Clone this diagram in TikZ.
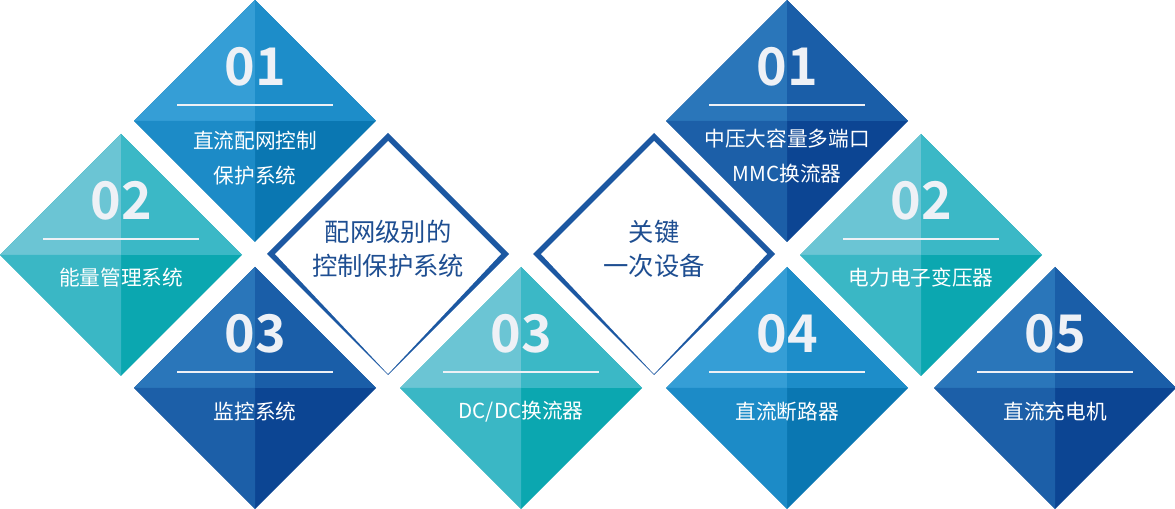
\documentclass[tikz,border=0pt]{standalone}
\usepackage{fontspec}
\setmainfont{Noto Sans CJK SC}[BoldFont={Noto Sans CJK SC Bold}]

% quadrant colours: A top left, B top right, C bottom left, D bottom right
\definecolor{mblueA}{HTML}{359ED6}
\definecolor{mblueB}{HTML}{1D8DC9}
\definecolor{mblueC}{HTML}{1C8BC7}
\definecolor{mblueD}{HTML}{0A77B2}
\definecolor{aquaA}{HTML}{6BC5D4}
\definecolor{aquaB}{HTML}{3BB8C6}
\definecolor{aquaC}{HTML}{3AB7C5}
\definecolor{aquaD}{HTML}{0BA7B0}
\definecolor{dblueA}{HTML}{2A76BA}
\definecolor{dblueB}{HTML}{1A5EA8}
\definecolor{dblueC}{HTML}{1C5FA8}
\definecolor{dblueD}{HTML}{0C4593}
\definecolor{numwhite}{HTML}{EEF1F6}
\definecolor{rimblue}{HTML}{1C58A2}
\definecolor{hubtextblue}{HTML}{1E4E91}

% four-quadrant diamond: #1 = x, #2 = y, #3 = palette
\newcommand{\quaddiamond}[3]{%
  \fill[#3D] (#1-121,#2) -- (#1,#2-121) -- (#1+121,#2) -- (#1,#2+121) -- cycle;
  \fill[#3A] (#1,#2) -- (#1-121,#2) -- (#1,#2-121) -- cycle;
  \fill[#3B] (#1,#2) -- (#1,#2-121) -- (#1+121,#2) -- cycle;
  \fill[#3C] (#1,#2) -- (#1-121,#2) -- (#1,#2+121) -- cycle;
  \draw[numline] (#1-78,#2-16) -- (#1+78,#2-16);
}

% outlined hub diamond: #1 = x, #2 = y
\newcommand{\hubdiamond}[2]{%
  \fill[rimblue] (#1,#2-121) -- (#1-121,#2) -- (#1,#2+121) -- (#1+121,#2) -- cycle;
  \fill[white] (#1,#2-113) -- (#1-113,#2) -- (#1,#2+120) -- (#1+113,#2) -- cycle;
}

\begin{document}
\begin{tikzpicture}[x=0.75pt,y=0.75pt,yscale=-1,xscale=1,
    numline/.style={draw=numwhite, line width=1.9pt},
    numtext/.style={text=numwhite, font=\bfseries\fontsize{39}{39}\selectfont, inner sep=0pt},
    labeltext/.style={text=white, font=\fontsize{15.5}{26}\selectfont, align=center, inner sep=0pt},
    hubtext/.style={text=hubtextblue, font=\fontsize{19}{26}\selectfont, align=center, inner sep=0pt}]
    \useasboundingbox (0,0) rectangle (1175,509);

    %Shape: Diamond [left 01]
    \quaddiamond{255}{121}{mblue}
    %Shape: Diamond [left 02]
    \quaddiamond{121}{255}{aqua}
    %Shape: Diamond [left 03]
    \quaddiamond{255}{388}{dblue}
    %Shape: Diamond [hub left]
    \hubdiamond{388}{254}
    %Shape: Diamond [middle 03]
    \quaddiamond{521}{388}{aqua}
    %Shape: Diamond [hub right]
    \hubdiamond{654}{254}
    %Shape: Diamond [right 01]
    \quaddiamond{787}{121}{dblue}
    %Shape: Diamond [right 02]
    \quaddiamond{921}{255}{aqua}
    %Shape: Diamond [right 04]
    \quaddiamond{787}{388}{mblue}
    %Shape: Diamond [right 05]
    \quaddiamond{1055}{388}{dblue}

    % Text Node
    \draw (255,67) node [numtext] (numctl) {01};
    % Text Node
    \draw (255,158) node [labeltext] (labctl) {直流配网控制\\保护系统};
    % Text Node
    \draw (121,201) node [numtext] (numems) {02};
    % Text Node
    \draw (121,278) node [labeltext] (labems) {能量管理系统};
    % Text Node
    \draw (255,334) node [numtext] (nummon) {03};
    % Text Node
    \draw (255,412) node [labeltext] (labmon) {监控系统};
    % Text Node
    \draw (388,249) node [hubtext] (hubctl) {配网级别的\\控制保护系统};
    % Text Node
    \draw (521,334) node [numtext] (numdcdc) {03};
    % Text Node
    \draw (521,412) node [labeltext] (labdcdc) {DC/DC换流器};
    % Text Node
    \draw (654,249) node [hubtext] (hubdev) {关键\\一次设备};
    % Text Node
    \draw (787,67) node [numtext] (nummmc) {01};
    % Text Node
    \draw (787,156) node [labeltext] (labmmc) {中压大容量多端口\\MMC换流器};
    % Text Node
    \draw (921,201) node [numtext] (numpet) {02};
    % Text Node
    \draw (921,278) node [labeltext] (labpet) {电力电子变压器};
    % Text Node
    \draw (787,334) node [numtext] (numbrk) {04};
    % Text Node
    \draw (787,412) node [labeltext] (labbrk) {直流断路器};
    % Text Node
    \draw (1055,334) node [numtext] (numchg) {05};
    % Text Node
    \draw (1055,412) node [labeltext] (labchg) {直流充电机};

\end{tikzpicture}
\end{document}
